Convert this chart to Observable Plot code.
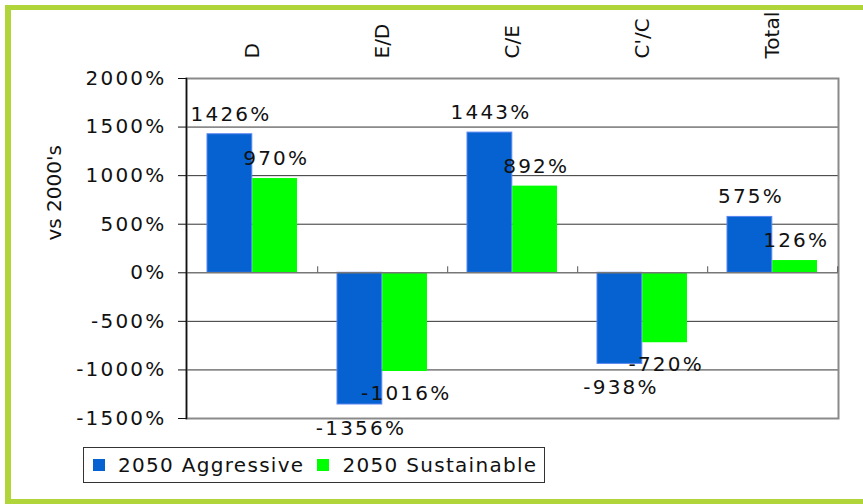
<!DOCTYPE html>
<html>
<head>
<meta charset="utf-8">
<script src="https://cdn.jsdelivr.net/npm/d3@7"></script>
<script src="https://cdn.jsdelivr.net/npm/@observablehq/plot@0.6"></script>
<style>
  html, body { margin: 0; padding: 0; background: #fff; }
  #wrap { position: relative; width: 863px; height: 504px; overflow: hidden; background: #fff; font-family: "DejaVu Sans", Verdana, sans-serif; }
  #frame { position: absolute; left: 5px; top: 5px; width: 900px; height: 489px;
           border-left: 6px solid #b0d53a; border-top: 5px solid #b0d53a; border-bottom: 6px solid #b0d53a; pointer-events: none; }
  #legend { position: absolute; left: 83px; top: 447px; width: 460px; height: 34px; border: 1px solid #333;
            display: flex; align-items: center; font-size: 20px; letter-spacing: 1.3px; color: #111; background: #fff; }
  .sw { width: 12px; height: 12px; display: inline-block; margin-left: 9px; margin-right: 13px; }
  .item { display: flex; align-items: center; }
</style>
</head>
<body>
<div id="wrap"><div id="chart"></div><div id="legend"></div><div id="frame"></div></div>
<script>
const categories = ["D", "E/D", "C/E", "C'/C", "Total"];
const series = ["2050 Aggressive", "2050 Sustainable"];
const aggressive = [1426, -1356, 1443, -938, 575];
const sustainable = [970, -1016, 892, -720, 126];
const yTicks = [-1500, -1000, -500, 0, 500, 1000, 1500, 2000];
const gridValues = [-1000, -500, 500, 1000, 1500];
const colors = ["#0562D0", "#00FF00"];
const yLabel = "vs 2000's";

const W = 863, H = 504, mL = 186, mR = 25, mT = 78, mB = 86;
const band = (W - mL - mR) / categories.length;
const gap = 20;
const barW = (band - 2 * gap) / 2;
const off = barW / 2; // distance from band centre to each bar centre

const data = categories.flatMap((c, i) => [
  {cat: c, series: series[0], value: aggressive[i]},
  {cat: c, series: series[1], value: sustainable[i]}
]);
const fmt = d => d + "%";
const spacing = 2.2;
const labelStyle = {fontSize: 20, fill: "#111"};

const chart = Plot.plot({
  width: W, height: H,
  marginLeft: mL, marginRight: mR, marginTop: mT, marginBottom: mB,
  style: {fontFamily: "DejaVu Sans, Verdana, sans-serif", fontSize: "20px", background: "transparent", color: "#111"},
  x: {domain: categories, padding: 0},
  y: {domain: [-1500, 2000]},
  color: {domain: series, range: colors},
  marks: [
    Plot.ruleY(gridValues, {stroke: "#333", strokeWidth: 1}),
    Plot.frame({stroke: "#8a8a8a", strokeWidth: 2}),
    Plot.barY(data.filter(d => d.series === series[0]), {x: "cat", y: "value", fill: "series", stroke: "#5a86f0", strokeWidth: 1, insetLeft: gap, insetRight: gap + barW}),
    Plot.barY(data.filter(d => d.series === series[1]), {x: "cat", y: "value", fill: "series", insetLeft: gap + barW, insetRight: gap}),
    Plot.ruleY([0], {stroke: "#777", strokeWidth: 1.5}),
    Plot.ruleX(categories, {x: d => d, dx: band / 2, y1: 0, y2: 0, insetTop: -6, stroke: "#555", strokeWidth: 1}),
    Plot.frame({anchor: "left", stroke: "#111", strokeWidth: 1.5}),
    Plot.axisY({ticks: yTicks, tickFormat: fmt, tickSize: 8, tickPadding: 12, label: null, fontSize: 20}),
    Plot.axisX({anchor: "top", tickSize: 0, tickPadding: 20, tickRotate: -90, label: null, fontSize: 20}),
    Plot.text(data.filter(d => d.series === series[0] && d.value >= 0), {x: "cat", y: "value", text: d => fmt(d.value), dx: -off + spacing / 2, dy: -20, ...labelStyle}),
    Plot.text(data.filter(d => d.series === series[0] && d.value < 0), {x: "cat", y: "value", text: d => fmt(d.value), dx: -off + spacing / 2, dy: 24, ...labelStyle}),
    Plot.text(data.filter(d => d.series === series[1] && d.value >= 0), {x: "cat", y: "value", text: d => fmt(d.value), dx: off + spacing / 2, dy: -20, ...labelStyle}),
    Plot.text(data.filter(d => d.series === series[1] && d.value < 0), {x: "cat", y: "value", text: d => fmt(d.value), dx: off + spacing / 2, dy: 22, ...labelStyle}),
    Plot.text([yLabel], {frameAnchor: "left", dx: -132, dy: -8, rotate: -90, fontSize: 20, fill: "#111", text: d => d})
  ]
});
// horizontally stretched look of the reference: widen the horizontal (percent) texts
d3.select(chart).selectAll("text").each(function () {
  const t = this.textContent;
  if (t.endsWith("%")) this.style.letterSpacing = spacing + "px";
});
document.getElementById("chart").appendChild(chart);

const legend = document.getElementById("legend");
series.forEach((s, i) => {
  const item = document.createElement("span");
  item.className = "item";
  const sw = document.createElement("span");
  sw.className = "sw";
  sw.style.background = colors[i];
  if (i > 0) sw.style.marginLeft = "13px";
  item.appendChild(sw);
  item.appendChild(document.createTextNode(s));
  legend.appendChild(item);
});
</script>
</body>
</html>
